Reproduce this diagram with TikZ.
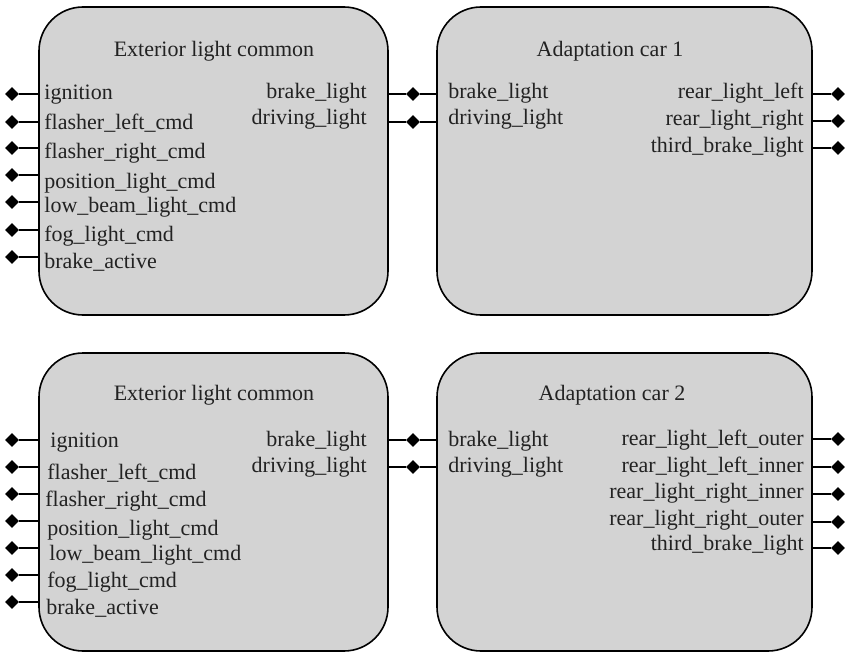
\documentclass[tikz,border=0pt]{standalone}
\usepackage{fontspec}
\setmainfont{Liberation Serif}
\usetikzlibrary{positioning,shapes.geometric}
\definecolor{blockgray}{HTML}{D3D3D3}
\definecolor{labelink}{HTML}{222222}
\tikzset{
  block/.style={
    draw=black,
    fill=blockgray,
    rounded corners=22pt,
    line width=0.8pt,
    inner sep=0pt,
    minimum height=154pt
  },
  portdot/.style={diamond, fill=black, inner sep=0pt, minimum size=7pt},
  portwire/.style={line width=0.8pt},
  titletext/.style={anchor=base, inner sep=0pt, text=labelink, font=\fontsize{11}{13}\selectfont},
  leftlabel/.style={titletext, anchor=base west},
  rightlabel/.style={titletext, anchor=base east}
}
\begin{document}
\begin{tikzpicture}[x=0.5pt,y=-0.5pt]
  \useasboundingbox (0,0) rectangle (846,658);
  % top pair
  \node[block, minimum width=174.5pt] (extA) at (213.5,161) {};
  \node[block, minimum width=187.5pt] (carA) at (624.5,161) {};
  \node[titletext] (extAtitle) at (214,57) {Exterior light common};
  \node[titletext] (carAtitle) at (610,57) {Adaptation car 1};
  \foreach \wy/\ty/\tx/\lab [count=\i] in {94/100/44/ignition, 122/130/44/flasher\_left\_cmd,
      148/158/44/flasher\_right\_cmd, 175/188/44/position\_light\_cmd, 202/213/44/low\_beam\_light\_cmd,
      230/241/44/fog\_light\_cmd, 257/268/44/brake\_active} {
    \node[portdot] (inA\i) at (12,\wy) {};
    \draw[portwire] (inA\i) -- (inA\i -| extA.west);
    \node[leftlabel] (inAlab\i) at (\tx,\ty) {\lab};
  }
  \foreach \wy/\ty/\lab [count=\i] in {94/99/brake\_light, 122/125/driving\_light} {
    \node[portdot] (midA\i) at (413,\wy) {};
    \draw[portwire] (extA.east |- midA\i) -- (midA\i) -- (carA.west |- midA\i);
    \node[rightlabel] (extAout\i) at (367,\ty) {\lab};
    \node[leftlabel] (carAin\i) at (448,\ty) {\lab};
  }
  \foreach \wy/\ty/\lab [count=\i] in {94/99/rear\_light\_left, 121/126/rear\_light\_right,
      148/153/third\_brake\_light} {
    \node[portdot] (outA\i) at (838,\wy) {};
    \draw[portwire] (carA.east |- outA\i) -- (outA\i);
    \node[rightlabel] (carAout\i) at (804,\ty) {\lab};
  }
  % bottom pair
  \node[block, minimum width=174.5pt, minimum height=149pt] (extB) at (213.5,502) {};
  \node[block, minimum width=187.5pt, minimum height=149pt] (carB) at (624.5,502) {};
  \node[titletext] (extBtitle) at (214,400) {Exterior light common};
  \node[titletext] (carBtitle) at (612,400) {Adaptation car 2};
  \foreach \wy/\ty/\tx/\lab [count=\i] in {440/447/50/ignition, 467/479/47/flasher\_left\_cmd,
      494/506/45/flasher\_right\_cmd, 521/535/47/position\_light\_cmd, 548/560/49/low\_beam\_light\_cmd,
      575/587/47/fog\_light\_cmd, 602/614/46/brake\_active} {
    \node[portdot] (inB\i) at (12,\wy) {};
    \draw[portwire] (inB\i) -- (inB\i -| extB.west);
    \node[leftlabel] (inBlab\i) at (\tx,\ty) {\lab};
  }
  \foreach \wy/\ty/\lab [count=\i] in {440/446/brake\_light, 467/472/driving\_light} {
    \node[portdot] (midB\i) at (413,\wy) {};
    \draw[portwire] (extB.east |- midB\i) -- (midB\i) -- (carB.west |- midB\i);
    \node[rightlabel] (extBout\i) at (367,\ty) {\lab};
    \node[leftlabel] (carBin\i) at (448,\ty) {\lab};
  }
  \foreach \wy/\ty/\lab [count=\i] in {439/445/rear\_light\_left\_outer, 467/472/rear\_light\_left\_inner,
      494/498/rear\_light\_right\_inner, 522/525/rear\_light\_right\_outer, 548/550/third\_brake\_light} {
    \node[portdot] (outB\i) at (838,\wy) {};
    \draw[portwire] (carB.east |- outB\i) -- (outB\i);
    \node[rightlabel] (carBout\i) at (804,\ty) {\lab};
  }
\end{tikzpicture}
\end{document}
